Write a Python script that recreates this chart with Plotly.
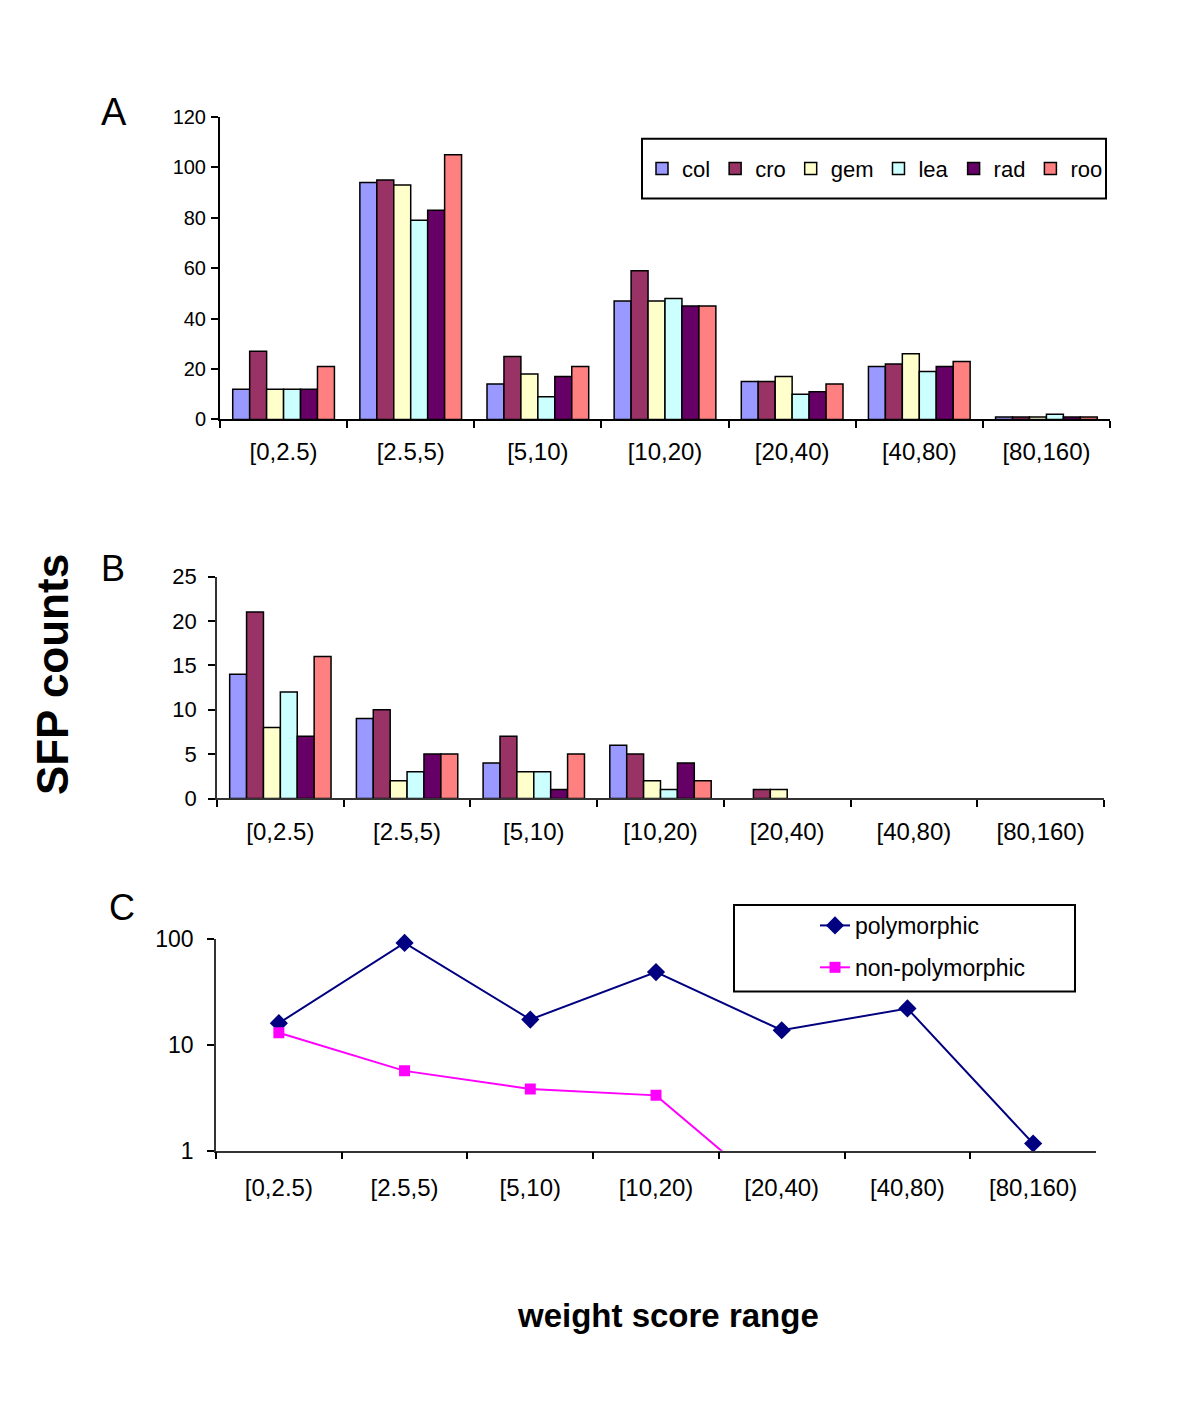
import plotly.graph_objects as go

categories = ["[0,2.5)", "[2.5,5)", "[5,10)", "[10,20)", "[20,40)", "[40,80)", "[80,160)"]
series_names = ["col", "cro", "gem", "lea", "rad", "roo"]
series_colors = ["#9999FF", "#993366", "#FFFFCC", "#CCFFFF", "#660066", "#FF8080"]

# Panel A values
a_col = [12, 94, 14, 47, 15, 21, 1]
a_cro = [27, 95, 25, 59, 15, 22, 1]
a_gem = [12, 93, 18, 47, 17, 26, 1]
a_lea = [12, 79, 9, 48, 10, 19, 2]
a_rad = [12, 83, 17, 45, 11, 21, 1]
a_roo = [21, 105, 21, 45, 14, 23, 1]

# Panel B values
b_col = [14, 9, 4, 6, 0, 0, 0]
b_cro = [21, 10, 7, 5, 1, 0, 0]
b_gem = [8, 2, 3, 2, 1, 0, 0]
b_lea = [12, 3, 3, 1, 0, 0, 0]
b_rad = [7, 5, 1, 4, 0, 0, 0]
b_roo = [16, 5, 5, 2, 0, 0, 0]

# Panel C values (log scale)
c_polymorphic = [16, 91.5, 17.3, 48.5, 13.7, 22, 1.17]
c_nonpolymorphic = [13, 5.67, 3.83, 3.33, 0.33, None, None]

a_series = [a_col, a_cro, a_gem, a_lea, a_rad, a_roo]
b_series = [b_col, b_cro, b_gem, b_lea, b_rad, b_roo]

W, H = 1200, 1411
FONT = "Liberation Sans, Arial, sans-serif"


def fx(px):
    return (px - 8) / W


def fy(py):
    return 1 - ((py - 16.6) / 0.9865) / H


fig = go.Figure()

for name, color, vals in zip(series_names, series_colors, a_series):
    fig.add_trace(go.Bar(
        x=categories, y=vals, name=name, xaxis="x", yaxis="y",
        marker=dict(color=color, line=dict(color="black", width=1.5)),
        legend="legend", showlegend=True,
    ))

for name, color, vals in zip(series_names, series_colors, b_series):
    fig.add_trace(go.Bar(
        x=categories, y=vals, name=name, xaxis="x2", yaxis="y2",
        marker=dict(color=color,
                    line=dict(color="black", width=[1.5 if v > 0 else 0 for v in vals])),
        showlegend=False,
    ))

fig.add_trace(go.Scatter(
    x=categories, y=c_polymorphic, name="polymorphic", xaxis="x3", yaxis="y3",
    mode="lines+markers", line=dict(color="#000080", width=2),
    marker=dict(symbol="diamond", size=14, color="#000080"),
    legend="legend2", legendgroup="p", cliponaxis=False,
))
fig.add_trace(go.Scatter(
    x=categories, y=c_nonpolymorphic, name="non-polymorphic", xaxis="x3", yaxis="y3",
    mode="lines+markers", line=dict(color="#FF00FF", width=2),
    marker=dict(symbol="square", size=11, color="#FF00FF"),
    legend="legend2", legendgroup="n", cliponaxis=True,
))

xcommon = dict(
    type="category", showline=True, linecolor="black", ticks="outside",
    tickson="boundaries", ticklen=7, tickcolor="black", tickwidth=1.5,
    showgrid=False, zeroline=False, tickfont=dict(family=FONT, size=24, color="black"),
    ticklabelstandoff=10, fixedrange=True, range=[-0.5, 6.5],
)
ycommon = dict(
    showline=True, linecolor="black", ticks="outside", ticklen=7,
    tickcolor="black", tickwidth=1.5, showgrid=False, zeroline=False,
    tickfont=dict(family=FONT, size=22, color="black"),
)

box_line = dict(color="black", width=2)

fig.update_layout(
    width=W, height=H,
    margin=dict(l=0, r=0, t=0, b=0),
    paper_bgcolor="white", plot_bgcolor="white",
    barmode="group", bargap=0.2, bargroupgap=0,
    font=dict(family=FONT, color="black"),
    xaxis=dict(xcommon, domain=[fx(220), fx(1110)], anchor="y", linewidth=2),
    yaxis=dict(ycommon, domain=[fy(417), fy(113)], anchor="x", range=[0, 120],
               dtick=20, linewidth=2, ticklabelstandoff=1,
               tickfont=dict(family=FONT, size=20, color="black")),
    xaxis2=dict(xcommon, domain=[fx(217), fx(1104)], anchor="y2", linewidth=1.5,
                linecolor="#333333", ticklabelstandoff=11),
    yaxis2=dict(ycommon, domain=[fy(798), fy(575)], anchor="x2", range=[0, 25],
                dtick=5, linewidth=1.5, linecolor="#333333", ticklabelstandoff=7),
    xaxis3=dict(xcommon, domain=[fx(216), fx(1096)], anchor="y3", linewidth=1.5,
                linecolor="#333333", ticklabelstandoff=15),
    yaxis3=dict(ycommon, domain=[fy(1152), fy(939)], anchor="x3", type="log",
                range=[0, 2], tickvals=[1, 10, 100], ticktext=["1", "10", "100"],
                linewidth=1.5, linecolor="#333333", ticklabelstandoff=9,
                tickfont=dict(family=FONT, size=23, color="black")),
    legend=dict(
        x=fx(642), y=fy(144), xanchor="left", yanchor="top",
        orientation="h", borderwidth=0, bgcolor="rgba(0,0,0,0)",
        font=dict(family=FONT, size=22, color="black"),
        itemclick=False, itemdoubleclick=False,
    ),
    legend2=dict(
        x=fx(815), y=fy(904), xanchor="left", yanchor="top",
        orientation="v", borderwidth=0, bgcolor="rgba(0,0,0,0)",
        font=dict(family=FONT, size=23, color="black"),
        tracegroupgap=9, itemclick=False, itemdoubleclick=False,
    ),
    shapes=[
        dict(type="rect", xref="paper", yref="paper", layer="below",
             x0=fx(642), x1=fx(1106), y0=fy(195), y1=fy(135), line=box_line,
             fillcolor="white"),
        dict(type="rect", xref="paper", yref="paper", layer="below",
             x0=fx(734), x1=fx(1075), y0=fy(992), y1=fy(905), line=box_line,
             fillcolor="white"),
    ],
    annotations=[
        dict(text="A", x=fx(114), y=fy(108), xref="paper", yref="paper",
             xanchor="center", yanchor="middle",
             showarrow=False, font=dict(family=FONT, size=38)),
        dict(text="B", x=fx(113), y=fy(567), xref="paper", yref="paper",
             xanchor="center", yanchor="middle",
             showarrow=False, font=dict(family=FONT, size=36)),
        dict(text="C", x=fx(122), y=fy(908), xref="paper", yref="paper",
             xanchor="center", yanchor="middle",
             showarrow=False, font=dict(family=FONT, size=36)),
        dict(text="<b>SFP counts</b>", x=fx(52), y=fy(674), xref="paper", yref="paper",
             xanchor="center", yanchor="middle",
             showarrow=False, textangle=-90, font=dict(family=FONT, size=44)),
        dict(text="<b>weight score range</b>", x=fx(668), y=fy(1318), xref="paper",
             yref="paper", xanchor="center", yanchor="middle",
             showarrow=False, font=dict(family=FONT, size=33)),
    ],
)

fig.write_html("out.html")
